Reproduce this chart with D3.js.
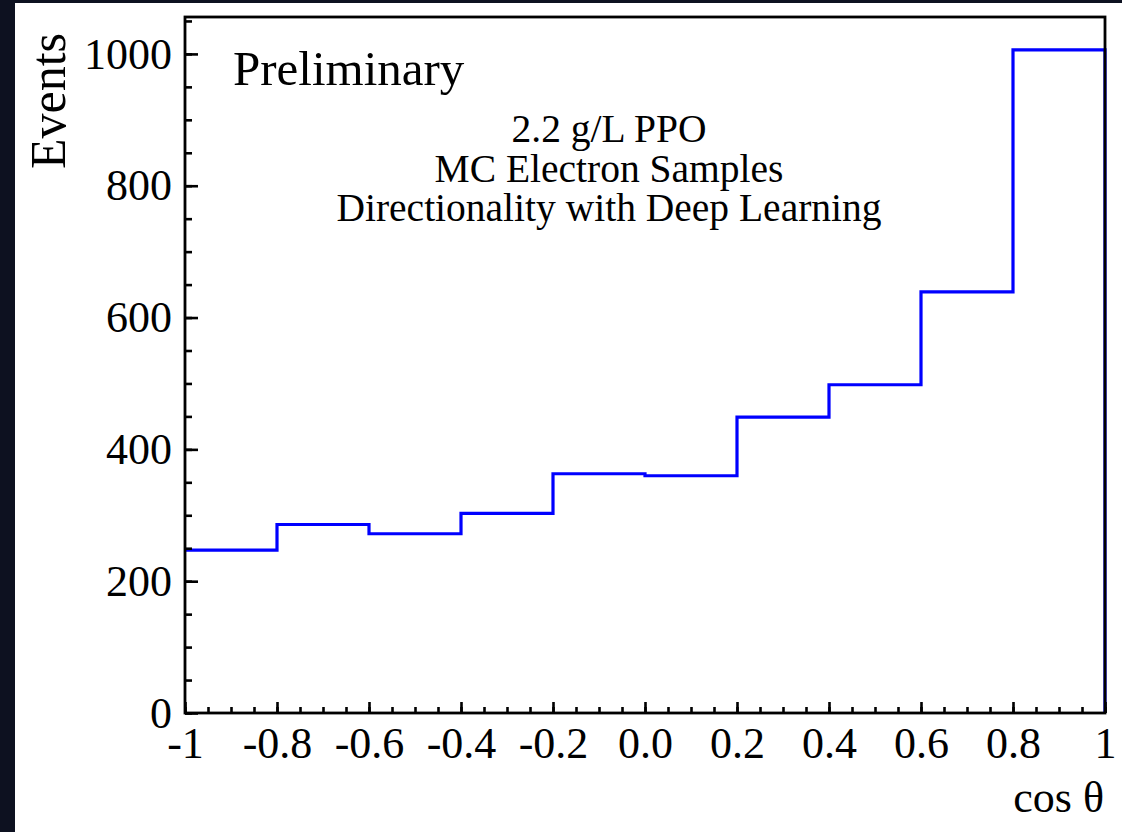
<!doctype html>
<html>
<head>
<script type='text/javascript' src='https://d3js.org/d3.v7.min.js'></script>
<style>
body{margin:0;background:#0d1120;}
text{font-family:'Liberation Serif','Times New Roman',serif;fill:#000;}
</style>
</head>
<body>
<script>
var width = 1122, height = 832;
// histogram of cos(theta): bin edges and bin contents
var binEdges = [-1,-0.8,-0.6,-0.4,-0.2,0,0.2,0.4,0.6,0.8,1];
var counts = [247,286,272,303,363,360,449,498,639,1006];
var xTickLabels = ['-1','-0.8','-0.6','-0.4','-0.2','0.0','0.2','0.4','0.6','0.8','1'];
var yTicks = [0,200,400,600,800,1000];
var yMinorTicks = d3.range(0,1051,50);
var xMinorTicks = d3.range(-1,1.001,0.05);
var infoLines = ['2.2 g/L PPO','MC Electron Samples','Directionality with Deep Learning'];

var svg = d3.select('body').append('svg').attr('width',width).attr('height',height);
// white canvas (dark strip on the top and left like the screenshot)
svg.append('rect').attr('x',0).attr('y',0).attr('width',width).attr('height',height).attr('fill','#0d1120');
svg.append('rect').attr('x',15).attr('y',3).attr('width',width-15).attr('height',height-3).attr('fill','#fff');

var x = d3.scaleLinear().domain([-1,1]).range([185,1105]);
var y = d3.scaleLinear().domain([0,1056]).range([713,17]);

// step outline built from the bins
var pts = [];
counts.forEach(function(c,i){
  pts.push([binEdges[i],c]);
  pts.push([binEdges[i+1],c]);
});
pts.push([binEdges[binEdges.length-1],0]);
var line = d3.line().x(function(d){return x(d[0])}).y(function(d){return y(d[1])});
svg.append('path').attr('d',line(pts)).attr('fill','none').attr('stroke','#0000ff').attr('stroke-width',3.2);

// axes (ticks pointing inward)
function styleAxis(g, size){
  g.select('.domain').remove();
  g.selectAll('line').attr('stroke','#000').attr('stroke-width',2.6);
  g.selectAll('text').attr('font-size',size).attr('font-family',"'Liberation Serif','Times New Roman',serif").attr('fill','#000');
  g.attr('font-family',null).attr('font-size',null);
}
var xMinor = svg.append('g').attr('transform','translate(0,'+y(0)+')')
  .call(d3.axisBottom(x).tickValues(xMinorTicks).tickSize(-6).tickFormat(''));
styleAxis(xMinor,0);
var xMajor = svg.append('g').attr('transform','translate(0,'+y(0)+')')
  .call(d3.axisBottom(x).tickValues(binEdges).tickSize(-11).tickPadding(14)
    .tickFormat(function(d,i){return xTickLabels[i]}));
styleAxis(xMajor,44);

var yMinor = svg.append('g').attr('transform','translate('+x(-1)+',0)')
  .call(d3.axisLeft(y).tickValues(yMinorTicks).tickSize(-7).tickFormat(''));
styleAxis(yMinor,0);
var yMajor = svg.append('g').attr('transform','translate('+x(-1)+',0)')
  .call(d3.axisLeft(y).tickValues(yTicks).tickSize(-13).tickPadding(13).tickFormat(d3.format('d')));
styleAxis(yMajor,44);

// frame
svg.append('rect').attr('x',x(-1)).attr('y',y(1056)).attr('width',x(1)-x(-1)).attr('height',y(0)-y(1056))
  .attr('fill','none').attr('stroke','#000').attr('stroke-width',2.8);

// labels
svg.append('text').attr('transform','translate(65,33) rotate(-90)').attr('text-anchor','end')
  .attr('font-size',50).text('Events');
svg.append('text').attr('x',1104).attr('y',812).attr('text-anchor','end').attr('font-size',44).text('cos \u03b8');
svg.append('text').attr('x',233).attr('y',85).attr('font-size',49).text('Preliminary');
svg.selectAll('.info').data(infoLines).join('text').attr('class','info')
  .attr('x',609).attr('y',function(d,i){return 142+i*39.5}).attr('text-anchor','middle')
  .attr('font-size',39.5).text(function(d){return d});
console.log('ready..');
</script>
</body>
</html>
